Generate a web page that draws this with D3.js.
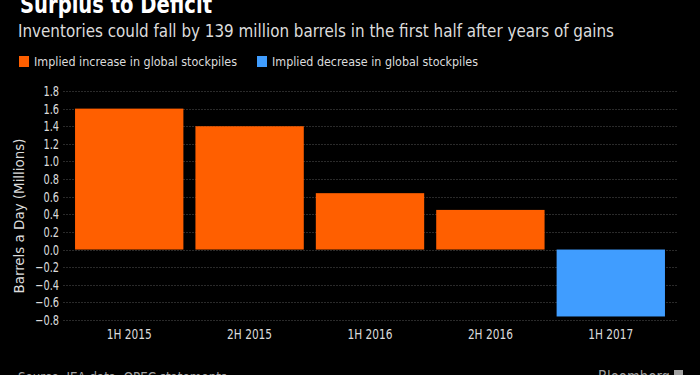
<!DOCTYPE html>
<html>
<head>
<meta charset="utf-8">
<script src="https://cdn.jsdelivr.net/npm/d3@7"></script>
<style>
  html, body { margin: 0; padding: 0; background: #000; }
  svg { display: block; }
  text { font-family: "DejaVu Sans Condensed", "Liberation Sans Narrow", "Roboto", sans-serif; }
</style>
</head>
<body>
<svg width="700" height="375"></svg>
<script>
// Oil inventories: surplus turning into deficit

const periods = ["1H 2015", "2H 2015", "1H 2016", "2H 2016", "1H 2017"];
const values = [1.60, 1.40, 0.64, 0.45, -0.76];
const yTicks = [-0.8, -0.6, -0.4, -0.2, 0.0, 0.2, 0.4, 0.6, 0.8, 1.0, 1.2, 1.4, 1.6, 1.8];
const legendItems = ["Implied increase in global stockpiles", "Implied decrease in global stockpiles"];

var svg = d3.select("svg"),
    plotLeft = 63,
    plotRight = 677,
    plotTop = 91,
    plotBottom = 320;

var orange = "#ff5f00",
    blue = "#409dff";

var x = d3.scaleBand()
    .domain(periods)
    .range([plotLeft, plotRight])
    .paddingInner(0.1)
    .paddingOuter(0.1);

var y = d3.scaleLinear()
    .domain([-0.8, 1.8])
    .range([plotBottom, plotTop]);

// title (cut off at the top in the original)
svg.append("text")
    .attr("x", 20)
    .attr("y", 13)
    .attr("fill", "#fff")
    .attr("font-weight", "bold")
    .attr("font-size", 24)
    .attr("textLength", 192)
    .attr("lengthAdjust", "spacingAndGlyphs")
    .text("Surplus to Deficit");

svg.append("text")
    .attr("x", 18)
    .attr("y", 37)
    .attr("fill", "#dcdcdc")
    .attr("font-size", 17)
    .attr("textLength", 596)
    .attr("lengthAdjust", "spacingAndGlyphs")
    .text("Inventories could fall by 139 million barrels in the first half after years of gains");

// legend
var legendX = [19, 257],
    legendW = [203, 206];
var legendG = svg.selectAll(".legend")
    .data(legendItems)
    .enter().append("g")
    .attr("class", "legend")
    .attr("transform", function(d, i) { return "translate(" + legendX[i] + ",56)"; });

legendG.append("rect")
    .attr("width", 10)
    .attr("height", 11)
    .attr("fill", function(d, i) { return i == 0 ? orange : blue; });

legendG.append("text")
    .attr("x", 15)
    .attr("y", 10)
    .attr("fill", "#dcdcdc")
    .attr("font-size", 13)
    .attr("textLength", function(d, i) { return legendW[i]; })
    .attr("lengthAdjust", "spacingAndGlyphs")
    .text(function(d) { return d; });

// grid lines
svg.append("g")
    .selectAll("line")
    .data(yTicks)
    .enter().append("line")
    .attr("x1", plotLeft)
    .attr("x2", plotRight)
    .attr("y1", function(d) { return Math.round(y(d)) + 0.5; })
    .attr("y2", function(d) { return Math.round(y(d)) + 0.5; })
    .attr("stroke", "#2a2a2a")
    .attr("stroke-dasharray", "2,1");

// y axis labels
var yAxis = svg.append("g")
    .attr("transform", "translate(" + plotLeft + ",0)")
    .call(d3.axisLeft(y).tickValues(yTicks).tickFormat(d3.format(".1f")).tickSize(0).tickPadding(4));
yAxis.select(".domain").remove();
yAxis.selectAll("text")
    .attr("fill", "#dcdcdc")
    .attr("font-size", 14)
    .attr("font-family", "'DejaVu Sans Mono', monospace")
    .attr("transform", "scale(0.78,1)")
    .attr("x", -5);

svg.append("text")
    .attr("transform", "translate(24,216) rotate(-90)")
    .attr("text-anchor", "middle")
    .attr("fill", "#dcdcdc")
    .attr("font-size", 14)
    .attr("textLength", 155)
    .attr("lengthAdjust", "spacingAndGlyphs")
    .text("Barrels a Day (Millions)");

// bars
svg.append("g")
    .selectAll("rect")
    .data(values)
    .enter().append("rect")
    .attr("x", function(d, i) { return x(periods[i]); })
    .attr("width", x.bandwidth())
    .attr("y", function(d) { return y(Math.max(0, d)); })
    .attr("height", function(d) { return Math.abs(y(d) - y(0)); })
    .attr("fill", function(d) { return d >= 0 ? orange : blue; });

// x labels
svg.append("g")
    .selectAll("text")
    .data(periods)
    .enter().append("text")
    .attr("x", function(d) { return x(d) + x.bandwidth() / 2; })
    .attr("y", 339)
    .attr("text-anchor", "middle")
    .attr("fill", "#dcdcdc")
    .attr("font-size", 14)
    .attr("textLength", 45)
    .attr("lengthAdjust", "spacingAndGlyphs")
    .text(function(d) { return d; });

// footer, mostly cut off
svg.append("text")
    .attr("x", 18)
    .attr("y", 382)
    .attr("fill", "#a0a0a0")
    .attr("font-size", 14)
    .attr("textLength", 209)
    .attr("lengthAdjust", "spacingAndGlyphs")
    .text("Source: IEA data, OPEC statements");

svg.append("text")
    .attr("x", 598)
    .attr("y", 382)
    .attr("fill", "#a0a0a0")
    .attr("font-size", 16)
    .attr("textLength", 72)
    .attr("lengthAdjust", "spacingAndGlyphs")
    .text("Bloomberg");

svg.append("rect")
    .attr("x", 674)
    .attr("y", 370)
    .attr("width", 9)
    .attr("height", 9)
    .attr("fill", "#a0a0a0");
</script>
</body>
</html>
